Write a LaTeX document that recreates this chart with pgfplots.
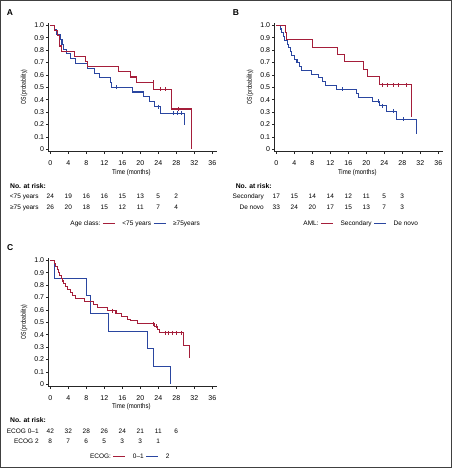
\documentclass[border=0pt]{standalone}
\usepackage{fontspec}
\setmainfont{Liberation Sans}
\newfontfamily\condA[FakeStretch=0.72]{Liberation Sans}
\newfontfamily\condB[FakeStretch=0.86]{Liberation Sans}
\usepackage{pgfplots}
\pgfplotsset{compat=1.18}
\definecolor{kmred}{RGB}{165,30,58}
\definecolor{kmblue}{RGB}{42,70,160}
\newcommand{\tfont}{\fontsize{6.5}{7.5}\selectfont}
\pgfplotsset{kmaxis/.style={
  x=4.5pt, y=124pt, xmin=-0.37, xmax=37, ymin=-0.019, ymax=1.02,
  axis x line=bottom, axis y line=left,
  axis line style={-, black!85, line width=0.6pt},
  tick align=outside, major tick length=2.5pt,
  tick style={black!85, line width=0.5pt},
  xtick={0,4,8,12,16,20,24,28,32,36},
  ytick={0,0.1,0.2,0.3,0.4,0.5,0.6,0.7,0.8,0.9,1.0},
  yticklabels={0,0.1,0.2,0.3,0.4,0.5,0.6,0.7,0.8,0.9,1.0},
  /pgf/number format/assume math mode=true,
  ticklabel style={font=\fontsize{7}{8}\selectfont},
  xticklabel style={yshift=-3pt},
  yticklabel style={inner sep=1.8pt},
  clip=false,
  legend style={draw=none, fill=none, legend columns=-1, font=\tfont,
    anchor=center, inner sep=0pt,
    /tikz/every odd column/.append style={column sep=5pt}},
  legend image code/.code={\draw[#1] (0pt,0pt) -- (12pt,0pt);},
  every axis plot/.append style={line width=1.05pt},
}}
\newcommand{\rt}[3]{\node[font=\tfont, anchor=center] at (axis cs:#1,#2) {#3};}
\begin{document}
\begin{tikzpicture}[x=1pt,y=1pt]
\useasboundingbox (0,0) rectangle (452,468);
\draw[black!75, line width=1.4pt] (0.7,0.7) rectangle (451.3,467.3);
\node[font=\bfseries\fontsize{8.5}{9}\selectfont] at (10,455) {A};
\node[font=\bfseries\fontsize{8.5}{9}\selectfont] at (236,455) {B};
\node[font=\bfseries\fontsize{8.5}{9}\selectfont] at (10.3,220) {C};

% ---------------- Panel A ----------------
\begin{axis}[kmaxis, at={(48.635pt,316.344pt)}, anchor=south west,
  legend style={at={(axis cs:18.3,-0.602)}}]
\addlegendimage{empty legend}\addlegendentry{Age class:}
\addlegendimage{kmred, line width=1pt}\addlegendentry{<75 years}
\addlegendimage{kmblue, line width=1pt}\addlegendentry{≥75years}
\addplot[const plot, kmblue, forget plot] coordinates {
(0,1) (0.9,0.962) (1.3,0.923) (2.3,0.885) (2.6,0.846) (2.9,0.808) (3.6,0.769)
(4.5,0.731) (5.7,0.692) (8.2,0.654) (9.9,0.615) (10.9,0.577) (13.3,0.538)
(13.6,0.5) (18.3,0.462) (20.8,0.424) (22.0,0.384) (23.2,0.344) (24.4,0.29) (29.9,0.196)};
\addplot[const plot, kmred, forget plot] coordinates {
(0,1) (1.0,0.958) (1.6,0.917) (2.0,0.833) (2.4,0.792) (5.3,0.75) (7.8,0.708)
(8.2,0.667) (15.1,0.625) (17.9,0.583) (19.2,0.542) (23.0,0.486) (26.9,0.325) (31.3,0)};
\addplot[only marks, mark=|, mark size=2pt, kmblue, forget plot, mark options={line width=0.6pt}]
 coordinates {(14.6,0.5) (24.0,0.344) (27.3,0.29) (28.2,0.29) (29.0,0.29)};
\addplot[only marks, mark=|, mark size=2pt, kmred, forget plot, mark options={line width=0.6pt}]
 coordinates {(22.8,0.542) (24.4,0.486) (25.6,0.486) (28.4,0.325)};
\node[font=\condA\fontsize{7}{8}\selectfont, rotate=90] at (axis cs:-5.84,0.5) {OS (probability)};
\node[font=\condB\fontsize{7}{8}\selectfont] at (axis cs:18,-0.189) {Time (months)};
\node[font=\bfseries\fontsize{6.8}{8}\selectfont, anchor=west] at (axis cs:-9.7,-0.294) {No. at risk:};
\node[font=\tfont, anchor=east] at (axis cs:-1.8,-0.382) {<75 years};
\node[font=\tfont, anchor=east] at (axis cs:-1.8,-0.471) {≥75 years};
\rt{0}{-0.382}{24}\rt{4}{-0.382}{19}\rt{8}{-0.382}{16}\rt{12}{-0.382}{16}
\rt{16}{-0.382}{15}\rt{20}{-0.382}{13}\rt{24}{-0.382}{5}\rt{28}{-0.382}{2}
\rt{0}{-0.471}{26}\rt{4}{-0.471}{20}\rt{8}{-0.471}{18}\rt{12}{-0.471}{15}
\rt{16}{-0.471}{12}\rt{20}{-0.471}{11}\rt{24}{-0.471}{7}\rt{28}{-0.471}{4}
\end{axis}

% ---------------- Panel B ----------------
\begin{axis}[kmaxis, at={(274.635pt,316.344pt)}, anchor=south west,
  legend style={at={(axis cs:18.2,-0.602)}}]
\addlegendimage{empty legend}\addlegendentry{AML:}
\addlegendimage{kmred, line width=1pt}\addlegendentry{Secondary}
\addlegendimage{kmblue, line width=1pt}\addlegendentry{De novo}
\addplot[const plot, kmblue, forget plot] coordinates {
(0,1) (0.9,0.97) (1.2,0.939) (1.5,0.909) (1.8,0.879) (2.5,0.848) (2.8,0.818)
(3.2,0.788) (3.4,0.758) (4.0,0.727) (4.6,0.697) (5.1,0.667) (5.7,0.636)
(7.9,0.606) (9.4,0.576) (10.2,0.545) (11.0,0.515) (13.3,0.485) (17.9,0.452)
(18.3,0.42) (21.4,0.388) (23.0,0.35) (24.4,0.305) (26.8,0.243) (31.2,0.12)};
\addplot[const plot, kmred, forget plot] coordinates {
(0,1) (2.0,0.941) (2.3,0.882) (8.1,0.824) (13.6,0.765) (15.1,0.706) (19.3,0.647)
(20.3,0.588) (23.0,0.52) (30.0,0.26)};
\addplot[only marks, mark=|, mark size=2pt, kmblue, forget plot, mark options={line width=0.6pt}]
 coordinates {(14.6,0.485) (22.7,0.388) (23.6,0.35) (26.0,0.305) (28.3,0.243)};
\addplot[only marks, mark=|, mark size=2pt, kmred, forget plot, mark options={line width=0.6pt}]
 coordinates {(23.6,0.52) (24.6,0.52) (26.0,0.52) (27.0,0.52) (28.8,0.52)};
\node[font=\condA\fontsize{7}{8}\selectfont, rotate=90] at (axis cs:-5.84,0.5) {OS (probability)};
\node[font=\condB\fontsize{7}{8}\selectfont] at (axis cs:18,-0.189) {Time (months)};
\node[font=\bfseries\fontsize{6.8}{8}\selectfont, anchor=west] at (axis cs:-9.78,-0.294) {No. at risk:};
\node[font=\tfont, anchor=east] at (axis cs:-2.0,-0.382) {Secondary};
\node[font=\tfont, anchor=east] at (axis cs:-2.0,-0.471) {De novo};
\rt{0}{-0.382}{17}\rt{4}{-0.382}{15}\rt{8}{-0.382}{14}\rt{12}{-0.382}{14}
\rt{16}{-0.382}{12}\rt{20}{-0.382}{11}\rt{24}{-0.382}{5}\rt{28}{-0.382}{3}
\rt{0}{-0.471}{33}\rt{4}{-0.471}{24}\rt{8}{-0.471}{20}\rt{12}{-0.471}{17}
\rt{16}{-0.471}{15}\rt{20}{-0.471}{13}\rt{24}{-0.471}{7}\rt{28}{-0.471}{3}
\end{axis}

% ---------------- Panel C ----------------
\begin{axis}[kmaxis, at={(48.635pt,81.344pt)}, anchor=south west,
  legend style={at={(axis cs:17.1,-0.585)}}]
\addlegendimage{empty legend}\addlegendentry{ECOG:}
\addlegendimage{kmred, line width=1pt}\addlegendentry{0–1}
\addlegendimage{kmblue, line width=1pt}\addlegendentry{2}
\addplot[const plot, kmblue, forget plot] coordinates {
(0,1) (0.9,0.857) (8.1,0.714) (8.9,0.571) (13.0,0.429) (21.5,0.286) (23.0,0.143) (26.7,0)};
\addplot[const plot, kmred, forget plot] coordinates {
(0,1) (0.9,0.976) (1.2,0.952) (1.5,0.929) (1.8,0.905) (2.1,0.881) (2.4,0.857)
(2.7,0.833) (3.0,0.81) (3.4,0.786) (3.9,0.762) (4.5,0.738) (5.0,0.714) (5.7,0.69)
(7.6,0.667) (9.7,0.643) (10.5,0.619) (12.7,0.595) (14.6,0.571) (15.8,0.548)
(17.2,0.524) (17.9,0.512) (19.4,0.488) (23.1,0.467) (23.9,0.445) (24.3,0.415)
(29.7,0.311) (31.0,0.209)};
\addplot[only marks, mark=|, mark size=2pt, kmred, forget plot, mark options={line width=0.6pt}]
 coordinates {(13.7,0.595) (22.8,0.488) (23.6,0.467) (25.5,0.415) (26.3,0.415)
 (27.2,0.415) (28.1,0.415) (29.0,0.415)};
\node[font=\condA\fontsize{7}{8}\selectfont, rotate=90] at (axis cs:-5.84,0.5) {OS (probability)};
\node[font=\condB\fontsize{7}{8}\selectfont] at (axis cs:18,-0.181) {Time (months)};
\node[font=\bfseries\fontsize{6.8}{8}\selectfont, anchor=west] at (axis cs:-9.7,-0.288) {No. at risk:};
\node[font=\tfont, anchor=east] at (axis cs:-1.8,-0.377) {ECOG 0–1};
\node[font=\tfont, anchor=east] at (axis cs:-1.8,-0.458) {ECOG 2};
\rt{0}{-0.377}{42}\rt{4}{-0.377}{32}\rt{8}{-0.377}{28}\rt{12}{-0.377}{26}
\rt{16}{-0.377}{24}\rt{20}{-0.377}{21}\rt{24}{-0.377}{11}\rt{28}{-0.377}{6}
\rt{0}{-0.458}{8}\rt{4}{-0.458}{7}\rt{8}{-0.458}{6}\rt{12}{-0.458}{5}
\rt{16}{-0.458}{3}\rt{20}{-0.458}{3}\rt{24}{-0.458}{1}
\end{axis}
\end{tikzpicture}
\end{document}
